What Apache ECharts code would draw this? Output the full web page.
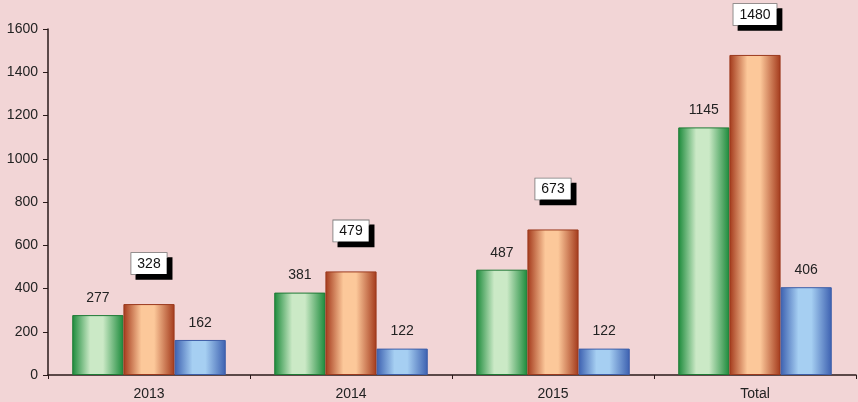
<!DOCTYPE html>
<html>
<head>
<meta charset="utf-8">
<script src="https://cdn.jsdelivr.net/npm/echarts@6/dist/echarts.min.js"></script>
<style>
html,body{margin:0;padding:0;background:#f2d5d6;}
#c{width:858px;height:402px;}
</style>
</head>
<body>
<div id="c"></div>
<script>
const categories = ['2013', '2014', '2015', 'Total'];
const seriesA = [277, 381, 487, 1145];
const seriesB = [328, 479, 673, 1480];
const seriesC = [162, 122, 122, 406];
const yTicks = {min: 0, max: 1600, interval: 200};

function grad(edge, mid) {
  return new echarts.graphic.LinearGradient(0, 0, 1, 0, [
    {offset: 0, color: edge},
    {offset: 0.35, color: mid},
    {offset: 0.6, color: mid},
    {offset: 1, color: edge}
  ]);
}
const font = 'Liberation Sans, Arial, sans-serif';
const plainLabel = {show: true, position: 'top', distance: 10, color: '#222', fontSize: 14, fontFamily: font};
const boxLabel = {
  show: true, position: 'top', distance: 30, color: '#111', fontSize: 14, fontFamily: font,
  backgroundColor: '#ffffff', borderColor: '#777', borderWidth: 0.8,
  padding: [4, 6, 3, 6],
  shadowColor: '#000', shadowOffsetX: 5, shadowOffsetY: 5, shadowBlur: 0
};

const chart = echarts.init(document.getElementById('c'));
chart.setOption({
  backgroundColor: '#f2d5d6',
  animation: false,
  grid: {left: 48, right: 2, top: 29, bottom: 27, containLabel: false},
  xAxis: {
    type: 'category', data: categories,
    axisLine: {lineStyle: {color: '#2a1a1a', width: 1.5}},
    axisTick: {show: true, length: 4, lineStyle: {color: '#2a1a1a'}},
    axisLabel: {color: '#222', fontSize: 14, fontFamily: font, margin: 12}
  },
  yAxis: {
    type: 'value', min: yTicks.min, max: yTicks.max, interval: yTicks.interval,
    axisLine: {show: true, lineStyle: {color: '#2a1a1a', width: 1.5}},
    axisTick: {show: true, length: 5, lineStyle: {color: '#2a1a1a'}},
    splitLine: {show: false},
    axisLabel: {color: '#222', fontSize: 14, fontFamily: font, margin: 10, formatter: v => String(v)}
  },
  series: [
    {type: 'bar', data: seriesA, barGap: '0%', barCategoryGap: '24%',
     itemStyle: {color: grad('#1b8a3a', '#cbe9c6'), borderColor: '#1e7a35', borderWidth: 1},
     label: plainLabel},
    {type: 'bar', data: seriesB, barGap: '0%', barCategoryGap: '24%',
     itemStyle: {color: grad('#a3391b', '#fcc89a'), borderColor: '#9b3a1e', borderWidth: 1},
     label: boxLabel},
    {type: 'bar', data: seriesC, barGap: '0%', barCategoryGap: '24%',
     itemStyle: {color: grad('#3c60b0', '#a6cff2'), borderColor: '#3d5ea8', borderWidth: 1},
     label: plainLabel}
  ]
});
</script>
</body>
</html>
